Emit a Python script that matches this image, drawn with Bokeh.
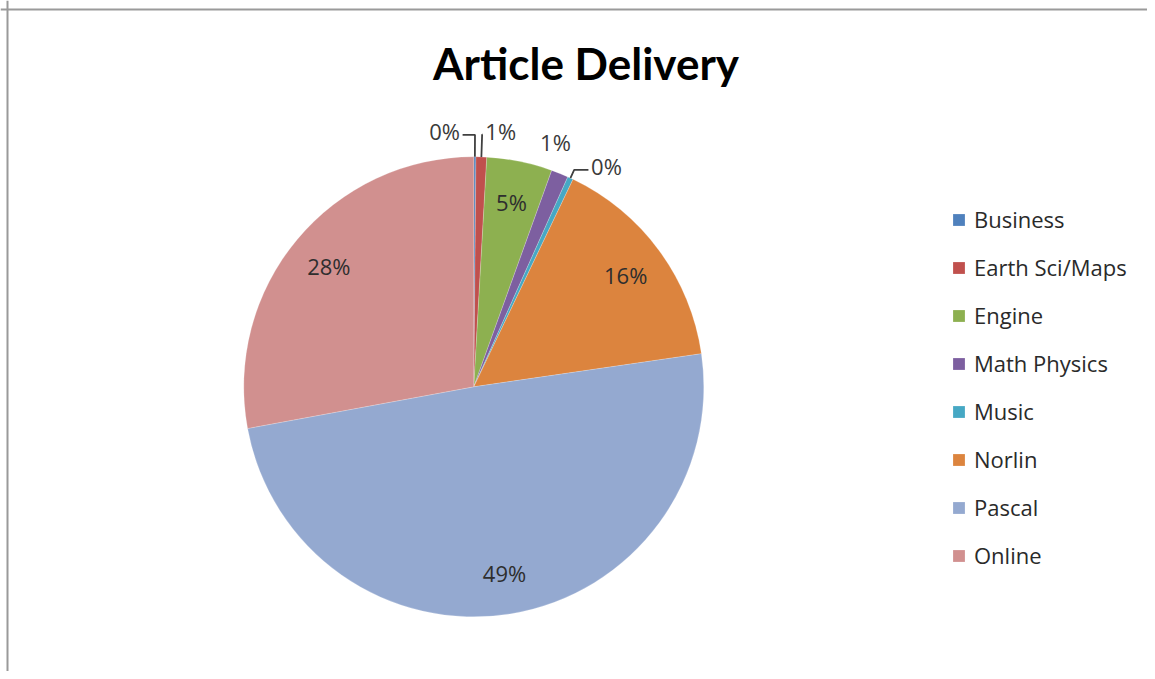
import math
from bokeh.plotting import figure
from bokeh.models import Range1d, Span, Legend, LegendItem, ColumnDataSource, Label
from bokeh.core.properties import value
from bokeh.embed import file_html
from bokeh.resources import INLINE

# ---- data ----
categories = ["Business", "Earth Sci/Maps", "Engine", "Math Physics", "Music", "Norlin", "Pascal", "Online"]
shares = [0.15, 0.75, 4.6, 1.2, 0.4, 15.6, 49.4, 27.9]
colors = ["#4F81BD", "#C0504D", "#8DB050", "#7D5FA0", "#46A8C4", "#DC843E", "#94A9D0", "#D1908F"]
title_text = "Article Delivery"

# ---- layout (canvas pixels, y up) ----
W, H = 1147, 671
CX, CY, R = 473.3, 284.7, 230.0
FONT = "Open Sans"

p = figure(width=W, height=H, output_backend="svg", toolbar_location=None,
           x_range=Range1d(0, W), y_range=Range1d(0, H), min_border=0)
p.axis.visible = False
p.grid.visible = False
p.outline_line_color = None
p.background_fill_color = "white"

total = sum(shares)
fracs = [s / total for s in shares]
starts, ends, mids = [], [], []
c = 0.0
for f in fracs:
    starts.append(math.pi / 2 - 2 * math.pi * c)
    mids.append(c + f / 2)
    c += f
    ends.append(math.pi / 2 - 2 * math.pi * c)

src = ColumnDataSource(dict(x=[CX] * len(shares), y=[CY] * len(shares), s=starts, e=ends,
                            color=colors, name=categories))
wr = p.wedge(x="x", y="y", radius=R, start_angle="s", end_angle="e", direction="clock",
             fill_color="color", line_color="white", line_width=0.4, line_alpha=0.5, source=src)

def pct_label(v):
    return "%d%%" % int(math.floor(v / total * 100 + 0.5))

# inside labels
in_x, in_y, in_t = [], [], []
out_idx = []
for i, f in enumerate(fracs):
    if f * 100 >= 3:
        a = 2 * math.pi * mids[i]
        in_x.append(CX + 0.82 * R * math.sin(a))
        in_y.append(CY + 0.82 * R * math.cos(a))
        in_t.append(pct_label(shares[i]))
    else:
        out_idx.append(i)

p.text(x=in_x, y=in_y, text=in_t, text_font=value(FONT), text_font_size="22px",
       text_color="#2e2e2e", text_align="center", text_baseline="middle")

# outside labels: spread angles (degrees) with minimum separation
mid_deg = [mids[i] * 360 for i in out_idx]
SEP = 12.5
n = len(mid_deg)
mean = sum(mid_deg) / n
lab_deg = [mean + (k - (n - 1) / 2) * SEP for k in range(n)]
RL = 1.12 * R
HALF_W = 16
ox, oy, ot = [], [], []
lx, ly = [], []
for k, i in enumerate(out_idx):
    t = math.radians(lab_deg[k])
    px = CX + RL * math.sin(t)
    py = CY + RL * math.cos(t)
    ox.append(px); oy.append(py); ot.append(pct_label(shares[i]))
    m = math.radians(mid_deg[k])
    sx, sy = CX + R * math.sin(m), CY + R * math.cos(m)
    yline = py - 4
    re = (yline - CY) / math.cos(m)
    ex = CX + re * math.sin(m)
    if px >= CX:
        end_x = px - HALF_W - 2
        ok = ex < end_x
    else:
        end_x = px + HALF_W + 2
        ok = ex > end_x
    if ok:
        lx.append([sx, ex, end_x]); ly.append([sy, yline, yline])

p.multi_line(xs=lx, ys=ly, line_color="#404040", line_width=1.8)
p.text(x=ox, y=oy, text=ot, text_font=value(FONT), text_font_size="22px",
       text_color="#3a3a3a", text_align="center", text_baseline="middle")

# title
p.add_layout(Label(x=585.5, y=H - 62, text=title_text, text_font="Lato", text_font_size="44px",
                   text_font_style="bold", text_color="black", text_align="center",
                   text_baseline="middle"))

# frame edges (left/top)
p.add_layout(Span(location=7, dimension="height", line_color="#9a9a9a", line_width=2))
p.add_layout(Span(location=H - 9, dimension="width", line_color="#9a9a9a", line_width=2))

# legend
items = [LegendItem(label=categories[i], renderers=[wr], index=i) for i in range(len(categories))]
legend = Legend(items=items, location=(951, 101), glyph_width=15, glyph_height=15,
                label_height=30, spacing=18, padding=0, margin=0, label_standoff=8,
                label_text_font=FONT, label_text_font_size="22px", label_text_color="#2a2a2a",
                border_line_color=None, background_fill_alpha=0)
p.add_layout(legend, "center")

open("out.html", "w").write(file_html(p, INLINE))
